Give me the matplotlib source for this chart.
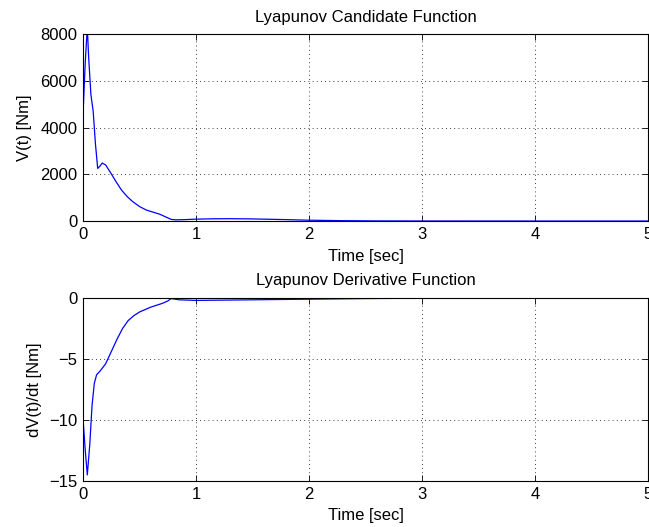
import numpy as np
import matplotlib
matplotlib.use("Agg")
import matplotlib.pyplot as plt

plt.rcParams['font.family'] = ['Liberation Sans', 'DejaVu Sans']

# Lyapunov candidate V(t)
t_v = [0.0, 0.02, 0.038, 0.05, 0.07, 0.09, 0.11, 0.13, 0.15, 0.17, 0.2, 0.24, 0.29,
       0.34, 0.39, 0.44, 0.5, 0.56, 0.62, 0.68, 0.73, 0.78, 0.82, 0.9, 1.0, 1.15,
       1.3, 1.5, 1.8, 2.0, 2.3, 2.6, 3.0, 4.0, 5.0]
v = [4550, 6800, 8300, 7000, 5400, 4700, 3300, 2250, 2350, 2480, 2400, 2100, 1700,
     1330, 1050, 830, 620, 470, 380, 290, 180, 70, 50, 60, 80, 95,
     100, 90, 60, 35, 15, 5, 2, 0, 0]

# Lyapunov derivative dV/dt
t_d = [0.0, 0.02, 0.038, 0.06, 0.08, 0.1, 0.12, 0.15, 0.2, 0.25, 0.3, 0.35, 0.4,
       0.45, 0.5, 0.55, 0.6, 0.65, 0.7, 0.75, 0.78, 0.85, 1.0, 1.5, 2.0, 2.5, 3.0,
       4.0, 5.0]
dv = [-9.9, -12.5, -14.5, -12.0, -8.8, -7.0, -6.3, -6.0, -5.4, -4.4, -3.4, -2.5, -1.85,
      -1.45, -1.15, -0.95, -0.75, -0.6, -0.45, -0.25, -0.05, -0.15, -0.2, -0.15, -0.1, -0.05, -0.02,
      0.0, 0.0]

xticks = [0, 1, 2, 3, 4, 5]
fs = 12

fig = plt.figure(figsize=(6.49, 5.27), dpi=100)
ax1 = fig.add_axes([0.1279, 0.5806, 0.8706, 0.3548])
ax2 = fig.add_axes([0.1279, 0.0873, 0.8706, 0.3473])

def style(ax):
    ax.set_xlim(0, 5)
    ax.set_xticks(xticks)
    ax.grid(True, color='black', linestyle=(0, (1, 4)), linewidth=0.6)
    ax.tick_params(direction='in', top=True, right=True, labelsize=fs,
                   length=4, width=0.6, pad=4)
    for s in ax.spines.values():
        s.set_linewidth(0.8)

ax1.plot(t_v, v, color='#0000ff', lw=0.9)
ax1.set_ylim(0, 8000)
ax1.set_yticks([0, 2000, 4000, 6000, 8000])
style(ax1)
ax1.set_title('Lyapunov Candidate Function', fontsize=fs, pad=9)
ax1.set_xlabel('Time [sec]', fontsize=fs, labelpad=5)
ax1.set_ylabel('V(t) [Nm]', fontsize=fs, labelpad=6)

ax2.plot(t_d, dv, color='#0000ff', lw=0.9)
ax2.set_ylim(-15, 0)
ax2.set_yticks([-15, -10, -5, 0])
ax2.set_yticklabels(['\u221215', '\u221210', '\u22125', '0'])
style(ax2)
ax2.set_title('Lyapunov Derivative Function', fontsize=fs, pad=9)
ax2.set_xlabel('Time [sec]', fontsize=fs, labelpad=4.5)
ax2.set_ylabel('dV(t)/dt [Nm]', fontsize=fs, labelpad=5)

fig.savefig('out.png', dpi=100)
